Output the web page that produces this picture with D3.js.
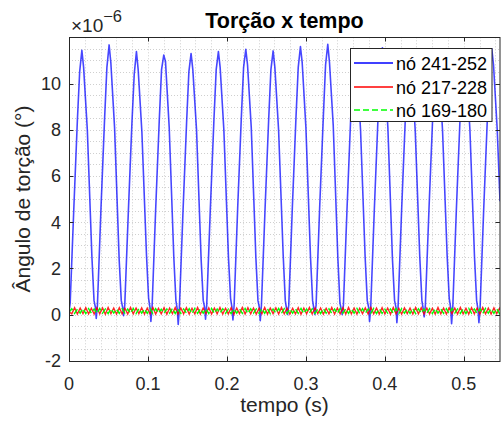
<!DOCTYPE html>
<html>
<head>
<meta charset="utf-8">
<script src="https://cdn.jsdelivr.net/npm/d3@7/dist/d3.min.js"></script>
<style>
  body { margin: 0; background: #ffffff; }
  text { font-family: "Liberation Sans", Arial, Helvetica, sans-serif; fill: #262626; }
</style>
</head>
<body>
<svg id="chart" width="502" height="428"></svg>
<script>
// Tick positions and labels
const xTicks = [0, 0.1, 0.2, 0.3, 0.4, 0.5];
const xTickLabels = ["0", "0.1", "0.2", "0.3", "0.4", "0.5"];
const yTicks = [-2, 0, 2, 4, 6, 8, 10];
const yTickLabels = ["-2", "0", "2", "4", "6", "8", "10"];
const xMinorStep = 0.02;
const yMinorStep = 0.5;

const seriesNames = ["nó 241-252", "nó 217-228", "nó 169-180"];
const seriesColors = ["#0000ff", "#ff0000", "#00ff00"];

// nó 241-252 : time (s) and torsion angle (x 1e-6 deg)
const blueTime = [
  0.0000, 0.0015, 0.0060, 0.0106, 0.0135, 0.0163, 0.0185, 0.0232, 0.0290, 0.0317, 0.0335,
  0.0345, 0.0360, 0.0405, 0.0451, 0.0480, 0.0508, 0.0530, 0.0577, 0.0635, 0.0662, 0.0680,
  0.0691, 0.0706, 0.0751, 0.0797, 0.0826, 0.0854, 0.0876, 0.0923, 0.0981, 0.1008, 0.1026,
  0.1037, 0.1052, 0.1097, 0.1143, 0.1172, 0.1200, 0.1222, 0.1269, 0.1327, 0.1354, 0.1372,
  0.1383, 0.1398, 0.1443, 0.1489, 0.1518, 0.1546, 0.1568, 0.1615, 0.1673, 0.1700, 0.1718,
  0.1729, 0.1744, 0.1789, 0.1835, 0.1864, 0.1892, 0.1914, 0.1961, 0.2019, 0.2046, 0.2064,
  0.2076, 0.2091, 0.2136, 0.2182, 0.2211, 0.2239, 0.2261, 0.2308, 0.2366, 0.2393, 0.2411,
  0.2422, 0.2437, 0.2482, 0.2528, 0.2557, 0.2585, 0.2607, 0.2654, 0.2712, 0.2739, 0.2757,
  0.2768, 0.2783, 0.2828, 0.2874, 0.2903, 0.2931, 0.2953, 0.3000, 0.3058, 0.3085, 0.3103,
  0.3114, 0.3129, 0.3174, 0.3220, 0.3249, 0.3277, 0.3299, 0.3346, 0.3404, 0.3431, 0.3449,
  0.3460, 0.3475, 0.3520, 0.3566, 0.3595, 0.3623, 0.3645, 0.3692, 0.3750, 0.3777, 0.3795,
  0.3806, 0.3821, 0.3866, 0.3912, 0.3941, 0.3969, 0.3991, 0.4038, 0.4096, 0.4123, 0.4141,
  0.4152, 0.4167, 0.4212, 0.4258, 0.4287, 0.4315, 0.4337, 0.4384, 0.4442, 0.4469, 0.4487,
  0.4498, 0.4513, 0.4558, 0.4604, 0.4633, 0.4661, 0.4683, 0.4730, 0.4788, 0.4815, 0.4833,
  0.4845, 0.4860, 0.4905, 0.4951, 0.4980, 0.5008, 0.5030, 0.5077, 0.5135, 0.5162, 0.5180,
  0.5191, 0.5206, 0.5251, 0.5297, 0.5326, 0.5354, 0.5376, 0.5423, 0.5458
];
const blueAngle = [
   0.10, 0.50, 4.50, 8.40, 10.50, 11.44, 10.70, 8.00, 2.50, 0.60, 0.30,
  -0.17, 0.40, 4.60, 8.50, 10.70, 11.67, 10.90, 8.10, 2.40, 0.60, 0.30,
  -0.05, 0.40, 4.40, 8.30, 10.40, 11.38, 10.60, 7.90, 2.60, 0.70, 0.30,
  -0.30, 0.30, 4.50, 8.40, 10.60, 11.23, 10.95, 8.10, 2.50, 0.60, 0.20,
  -0.43, 0.30, 4.40, 8.30, 10.50, 11.30, 10.60, 8.00, 2.40, 0.60, 0.30,
  -0.20, 0.40, 4.50, 8.40, 10.60, 11.38, 10.70, 8.00, 2.50, 0.70, 0.30,
  -0.24, 0.40, 4.60, 8.50, 10.70, 11.48, 10.80, 8.10, 2.50, 0.60, 0.30,
  -0.27, 0.40, 4.50, 8.40, 10.60, 11.41, 10.70, 8.00, 2.60, 0.60, 0.20,
   0.00, 0.40, 4.60, 8.50, 10.70, 11.60, 10.90, 8.10, 2.50, 0.60, 0.20,
   0.00, 0.40, 4.60, 8.50, 10.80, 11.70, 10.90, 8.20, 2.50, 0.50, 0.20,
   0.00, 0.40, 4.50, 8.40, 10.60, 11.50, 10.80, 8.00, 2.50, 0.60, 0.30,
  -0.30, 0.30, 4.50, 8.40, 10.70, 11.55, 10.80, 8.10, 2.40, 0.60, 0.30,
  -0.35, 0.30, 4.50, 8.40, 10.60, 11.50, 10.80, 8.00, 2.50, 0.60, 0.20,
  -0.10, 0.40, 4.50, 8.40, 10.60, 11.45, 10.70, 8.00, 2.60, 0.70, 0.30,
  -0.40, 0.30, 4.50, 8.40, 10.60, 11.50, 10.80, 8.00, 2.50, 0.60, 0.20,
  -0.35, 0.30, 4.50, 8.40, 10.60, 11.50, 10.80, 8.00, 4.90
];

// nó 217-228 and nó 169-180 : sampled every sampleStep seconds
const sampleStep = 0.00354;
const redAngle = [
  0.12,0.03,0.29,0.02,0.28,0.04,0.30,0.03,0.27,0.02,
  0.29,0.03,0.28,0.01,0.30,0.04,0.28,0.02,0.29,0.03,
  0.27,0.02,0.30,0.03,0.28,0.04,0.29,0.02,0.28,0.03,
  0.30,0.02,0.27,0.03,0.29,0.01,0.28,0.04,0.30,0.02,
  0.28,0.03,0.29,0.02,0.27,0.03,0.30,0.02,0.28,0.04,
  0.29,0.02,0.28,0.03,0.30,0.02,0.27,0.03,0.29,0.01,
  0.28,0.04,0.30,0.02,0.29,0.03,0.28,0.02,0.27,0.03,
  0.30,0.02,0.28,0.04,0.29,0.02,0.30,0.03,0.28,0.02,
  0.27,0.03,0.29,0.01,0.28,0.03,0.30,0.02,0.29,0.04,
  0.28,0.02,0.27,0.03,0.30,0.02,0.28,0.03,0.29,0.02,
  0.30,0.03,0.28,0.02,0.27,0.04,0.29,0.02,0.30,0.03,
  0.28,0.02,0.29,0.03,0.28,0.01,0.30,0.03,0.27,0.02,
  0.29,0.04,0.28,0.02,0.30,0.03,0.29,0.02,0.28,0.03,
  0.27,0.02,0.30,0.03,0.28,0.02,0.29,0.04,0.28,0.02,
  0.30,0.03,0.27,0.02,0.29,0.03,0.28,0.02,0.30,0.03,
  0.28,0.02,0.29,0.04,0.27,0.03,0.30,0.02,0.28,0.03
];
const greenAngle = [
  0.10,0.25,0.05,0.24,0.06,0.26,0.04,0.25,0.06,0.24,
  0.05,0.26,0.06,0.24,0.04,0.25,0.06,0.23,0.05,0.25,
  0.06,0.24,0.05,0.26,0.04,0.25,0.06,0.24,0.05,0.26,
  0.04,0.25,0.06,0.23,0.05,0.24,0.06,0.26,0.04,0.25,
  0.05,0.24,0.06,0.25,0.04,0.26,0.05,0.24,0.06,0.25,
  0.04,0.26,0.05,0.24,0.06,0.25,0.05,0.23,0.04,0.25,
  0.06,0.24,0.05,0.26,0.04,0.25,0.06,0.24,0.05,0.26,
  0.05,0.25,0.04,0.24,0.06,0.26,0.05,0.25,0.04,0.24,
  0.06,0.25,0.05,0.26,0.04,0.24,0.06,0.25,0.05,0.23,
  0.04,0.26,0.06,0.25,0.05,0.24,0.04,0.26,0.06,0.25,
  0.05,0.24,0.06,0.26,0.04,0.25,0.05,0.24,0.06,0.26,
  0.04,0.25,0.05,0.23,0.06,0.24,0.05,0.26,0.04,0.25,
  0.06,0.24,0.05,0.26,0.04,0.25,0.06,0.24,0.05,0.25,
  0.04,0.26,0.06,0.24,0.05,0.25,0.04,0.26,0.06,0.24,
  0.05,0.25,0.04,0.26,0.06,0.24,0.05,0.25,0.04,0.26,
  0.06,0.24,0.05,0.25,0.04,0.26,0.06,0.24,0.05,0.25
];

// ---- layout ----
const svg = d3.select("#chart");
const plot = { left: 69, right: 500, top: 37.3, bottom: 360.7 };
const xMax = 0.5458;
const x = d3.scaleLinear().domain([0, xMax]).range([plot.left, plot.right]);
const y = d3.scaleLinear().domain([-2, 12]).range([plot.bottom, plot.top]);
const axisColor = "#262626";

// grid (minor + major, dotted)
const gridG = svg.append("g");
const xMinor = d3.range(xMinorStep, xMax, xMinorStep);
const yMinor = d3.range(-2 + yMinorStep, 12, yMinorStep);
gridG.selectAll("line.gx").data(xMinor).join("line")
  .attr("x1", d => Math.round(x(d)) + 0.5).attr("x2", d => Math.round(x(d)) + 0.5)
  .attr("y1", plot.top).attr("y2", plot.bottom)
  .attr("stroke", "#cfcfcf").attr("stroke-width", 1).attr("stroke-dasharray", "1,2");
gridG.selectAll("line.gy").data(yMinor).join("line")
  .attr("y1", d => Math.round(y(d)) + 0.5).attr("y2", d => Math.round(y(d)) + 0.5)
  .attr("x1", plot.left).attr("x2", plot.right)
  .attr("stroke", "#cfcfcf").attr("stroke-width", 1).attr("stroke-dasharray", "1,2");

// clip for the data lines
svg.append("clipPath").attr("id", "plotClip").append("rect")
  .attr("x", plot.left).attr("y", plot.top)
  .attr("width", plot.right - plot.left).attr("height", plot.bottom - plot.top);

const line = d3.line().x(d => x(d[0])).y(d => y(d[1]));
const blueData = blueTime.map((t, i) => [t, blueAngle[i]]);
const redData = redAngle.map((v, i) => [i * sampleStep, v]);
const greenData = greenAngle.map((v, i) => [i * sampleStep, v]);

const dataG = svg.append("g").attr("clip-path", "url(#plotClip)");
dataG.append("path").datum(blueData).attr("d", line)
  .attr("fill", "none").attr("stroke", seriesColors[0]).attr("stroke-width", 1.6)
  .attr("stroke-opacity", 0.72).attr("stroke-linejoin", "round");
dataG.append("path").datum(redData).attr("d", line)
  .attr("fill", "none").attr("stroke", seriesColors[1]).attr("stroke-width", 1.4)
  .attr("stroke-opacity", 0.85);
dataG.append("path").datum(greenData).attr("d", line)
  .attr("fill", "none").attr("stroke", seriesColors[2]).attr("stroke-width", 1.4)
  .attr("stroke-dasharray", "6,3");

// axes box
svg.append("rect")
  .attr("x", plot.left + 0.5).attr("y", Math.round(plot.top) + 0.5)
  .attr("width", plot.right - plot.left - 0.5).attr("height", Math.round(plot.bottom) - Math.round(plot.top))
  .attr("fill", "none").attr("stroke", axisColor).attr("stroke-width", 1);

// ticks (inward, on all four sides)
const tickLen = 4.5;
const tickG = svg.append("g").attr("stroke", axisColor).attr("stroke-width", 1);
xTicks.forEach(t => {
  const px = Math.round(x(t)) + 0.5;
  tickG.append("line").attr("x1", px).attr("x2", px).attr("y1", Math.round(plot.bottom)).attr("y2", Math.round(plot.bottom) - tickLen);
  tickG.append("line").attr("x1", px).attr("x2", px).attr("y1", Math.round(plot.top)).attr("y2", Math.round(plot.top) + tickLen);
});
yTicks.forEach(t => {
  const py = Math.round(y(t)) + 0.5;
  tickG.append("line").attr("y1", py).attr("y2", py).attr("x1", plot.left).attr("x2", plot.left + tickLen);
  tickG.append("line").attr("y1", py).attr("y2", py).attr("x1", plot.right).attr("x2", plot.right - tickLen);
});

// tick labels
svg.append("g").selectAll("text").data(xTicks).join("text")
  .attr("x", d => x(d)).attr("y", 390)
  .attr("text-anchor", "middle").attr("font-size", 18)
  .text((d, i) => xTickLabels[i]);
svg.append("g").selectAll("text").data(yTicks).join("text")
  .attr("x", 61).attr("y", d => y(d) + 6.5)
  .attr("text-anchor", "end").attr("font-size", 18)
  .text((d, i) => yTickLabels[i]);

// exponent label
const expo = svg.append("text").attr("x", 71).attr("y", 32).attr("font-size", 19);
expo.append("tspan").text("×10");
expo.append("tspan").attr("font-size", 16.5).attr("dy", -10).text("−6");

// title and axis labels
svg.append("text").attr("x", (plot.left + plot.right) / 2).attr("y", 28.3)
  .attr("text-anchor", "middle").attr("font-size", 21.5).attr("font-weight", "bold")
  .style("fill", "#000")
  .text("Torção x tempo");
svg.append("text").attr("x", (plot.left + plot.right) / 2).attr("y", 412)
  .attr("text-anchor", "middle").attr("font-size", 21)
  .text("tempo (s)");
svg.append("text")
  .attr("transform", `translate(30,${(plot.top + plot.bottom) / 2}) rotate(-90)`)
  .attr("text-anchor", "middle").attr("font-size", 21)
  .text("Ângulo de torção (°)");

// legend
const leg = svg.append("g");
leg.append("rect").attr("x", 350.5).attr("y", 48.5).attr("width", 141.5).attr("height", 73)
  .attr("fill", "#fff").attr("stroke", axisColor).attr("stroke-width", 1);
const legRows = [63, 87, 110];
seriesNames.forEach((name, i) => {
  leg.append("line").attr("x1", 354).attr("x2", 393)
    .attr("y1", legRows[i]).attr("y2", legRows[i])
    .style("stroke", seriesColors[i]).attr("stroke-width", 1.6)
    .attr("stroke-dasharray", i === 2 ? "6,3" : "none");
  leg.append("text").attr("x", 396).attr("y", legRows[i] + 7)
    .attr("font-size", 18).style("fill", "#000")
    .text(name);
});
</script>
</body>
</html>
